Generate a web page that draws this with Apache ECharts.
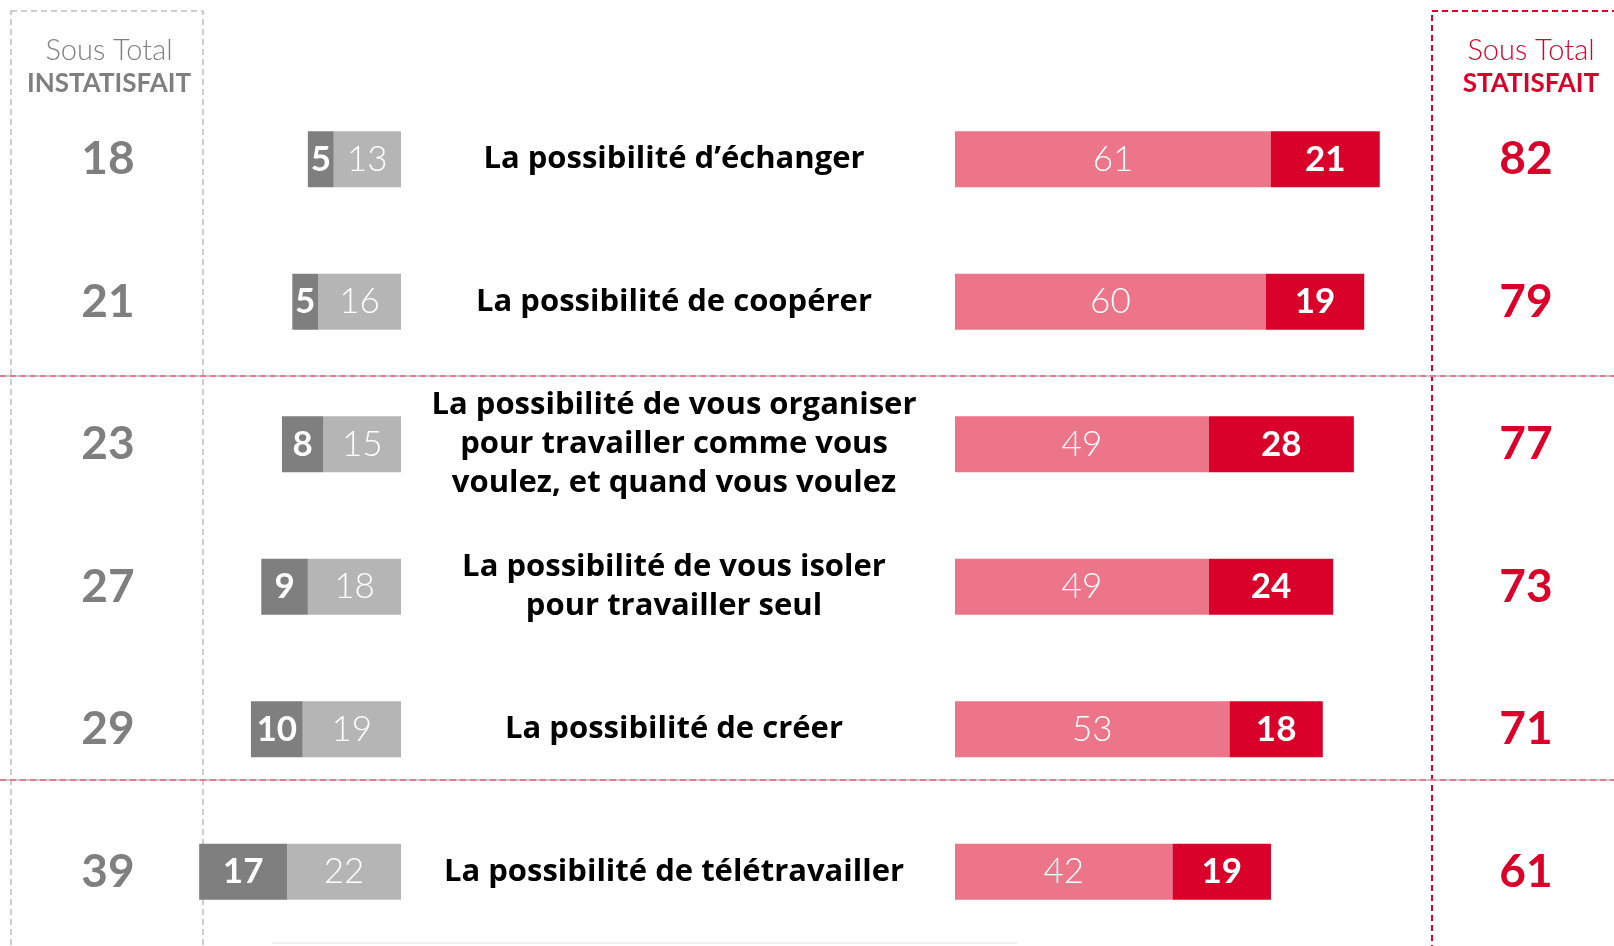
<!DOCTYPE html>
<html>
<head>
<meta charset="utf-8">
<script src="https://cdn.jsdelivr.net/npm/echarts@6/dist/echarts.min.js"></script>
<style>
  html, body { margin: 0; padding: 0; background: #fff; }
  #chart { width: 1614px; height: 946px; }
</style>
</head>
<body>
<div id="chart"></div>
<script>
// Données
const items = [
    'La possibilité d’échanger',
    'La possibilité de coopérer',
    'La possibilité de vous organiser\npour travailler comme vous\nvoulez, et quand vous voulez',
    'La possibilité de vous isoler\npour travailler seul',
    'La possibilité de créer',
    'La possibilité de télétravailler'
];
const pasDuTout = [5, 5, 8, 9, 10, 17];      // pas du tout satisfait
const plutotPas = [13, 16, 15, 18, 19, 22];  // plutôt pas satisfait
const plutot = [61, 60, 49, 49, 53, 42];     // plutôt satisfait
const tres = [21, 19, 28, 24, 18, 19];       // très satisfait
const totalInsatisfait = [18, 21, 23, 27, 29, 39];
const totalSatisfait = [82, 79, 77, 73, 71, 61];

const FONT = 'Lato, "Open Sans", sans-serif';
const LABEL_FONT = '"Open Sans", Lato, sans-serif';
const GREY_D = '#7f7f7f';
const GREY_L = '#b5b5b5';
const RED_L = '#ec7589';
const RED_D = '#d9002a';

const chart = echarts.init(document.getElementById('chart'));

function barLabel(bold) {
    return {
        show: true,
        position: 'inside',
        color: '#fff',
        fontFamily: FONT,
        fontSize: 35,
        fontWeight: bold ? 'bold' : 300
    };
}

const option = {
    animation: false,
    grid: [
        { left: 194, width: 207, top: 88, height: 855 },
        { left: 955, width: 518, top: 88, height: 855 }
    ],
    xAxis: [
        { gridIndex: 0, type: 'value', min: 0, max: 40, inverse: true, show: false },
        { gridIndex: 1, type: 'value', min: 0, max: 100, show: false }
    ],
    yAxis: [
        {
            gridIndex: 0, type: 'category', data: items, inverse: true, position: 'left',
            axisLine: { show: false, onZero: false }, axisTick: { show: false },
            axisLabel: {
                margin: 86, align: 'center', color: GREY_D, fontFamily: FONT,
                fontSize: 46, fontWeight: 'bold',
                formatter: (v, i) => totalInsatisfait[i]
            }
        },
        {
            gridIndex: 1, type: 'category', data: items, inverse: true, position: 'left',
            axisLine: { show: false, onZero: false }, axisTick: { show: false },
            axisLabel: {
                margin: 281, align: 'center', color: '#000', fontFamily: LABEL_FONT,
                fontSize: 31, fontWeight: 'bold', lineHeight: 39
            }
        },
        {
            gridIndex: 1, type: 'category', data: items, inverse: true, position: 'right',
            axisLine: { show: false, onZero: false }, axisTick: { show: false },
            axisLabel: {
                margin: 53, align: 'center', color: RED_D, fontFamily: FONT,
                fontSize: 46, fontWeight: 'bold',
                formatter: (v, i) => totalSatisfait[i]
            }
        }
    ],
    series: [
        {
            name: 'Plutôt pas satisfait', type: 'bar', stack: 'neg', xAxisIndex: 0, yAxisIndex: 0,
            data: plutotPas, barWidth: 56, itemStyle: { color: GREY_L }, label: barLabel(false)
        },
        {
            name: 'Pas du tout satisfait', type: 'bar', stack: 'neg', xAxisIndex: 0, yAxisIndex: 0,
            data: pasDuTout, barWidth: 56, itemStyle: { color: GREY_D }, label: barLabel(true)
        },
        {
            name: 'Plutôt satisfait', type: 'bar', stack: 'pos', xAxisIndex: 1, yAxisIndex: 1,
            data: plutot, barWidth: 56, itemStyle: { color: RED_L }, label: barLabel(false)
        },
        {
            name: 'Très satisfait', type: 'bar', stack: 'pos', xAxisIndex: 1, yAxisIndex: 1,
            data: tres, barWidth: 56, itemStyle: { color: RED_D }, label: barLabel(true)
        }
    ],
    graphic: [
        // cadres pointillés
        {
            type: 'rect', shape: { x: 11, y: 11, width: 192, height: 960 }, silent: true,
            style: { fill: 'none', stroke: '#bdbdbd', lineWidth: 1.5, lineDash: [6, 4] }
        },
        {
            type: 'rect', shape: { x: 1432, y: 11, width: 200, height: 960 }, silent: true,
            style: { fill: 'none', stroke: RED_D, lineWidth: 2, lineDash: [6, 4] }
        },
        // séparateurs
        { type: 'line', shape: { x1: 0, y1: 376, x2: 1614, y2: 376 }, silent: true, style: { stroke: '#c8c8c8', lineWidth: 2 } },
        { type: 'line', shape: { x1: 0, y1: 376, x2: 1614, y2: 376 }, silent: true, style: { stroke: '#f0627e', lineWidth: 1.5, lineDash: [6, 4] } },
        { type: 'line', shape: { x1: 0, y1: 780, x2: 1614, y2: 780 }, silent: true, style: { stroke: '#c8c8c8', lineWidth: 2 } },
        { type: 'line', shape: { x1: 0, y1: 780, x2: 1614, y2: 780 }, silent: true, style: { stroke: '#f0627e', lineWidth: 1.5, lineDash: [6, 4] } },
        { type: 'line', shape: { x1: 272, y1: 943, x2: 1017, y2: 943 }, silent: true, style: { stroke: '#f0f0f0', lineWidth: 2 } },
        // en-têtes
        {
            type: 'text', x: 109, y: 51, silent: true,
            style: { text: 'Sous Total', fill: GREY_D, font: '300 29px ' + FONT, textAlign: 'center', textVerticalAlign: 'middle' }
        },
        {
            type: 'text', x: 109, y: 84, silent: true,
            style: { text: 'INSTATISFAIT', fill: GREY_D, font: 'bold 26px ' + FONT, textAlign: 'center', textVerticalAlign: 'middle' }
        },
        {
            type: 'text', x: 1531, y: 51, silent: true,
            style: { text: 'Sous Total', fill: RED_D, font: '300 29px ' + FONT, textAlign: 'center', textVerticalAlign: 'middle' }
        },
        {
            type: 'text', x: 1531, y: 84, silent: true,
            style: { text: 'STATISFAIT', fill: RED_D, font: 'bold 26px ' + FONT, textAlign: 'center', textVerticalAlign: 'middle' }
        }
    ]
};

chart.setOption(option);
window.addEventListener('resize', () => chart.resize());
</script>
</body>
</html>
